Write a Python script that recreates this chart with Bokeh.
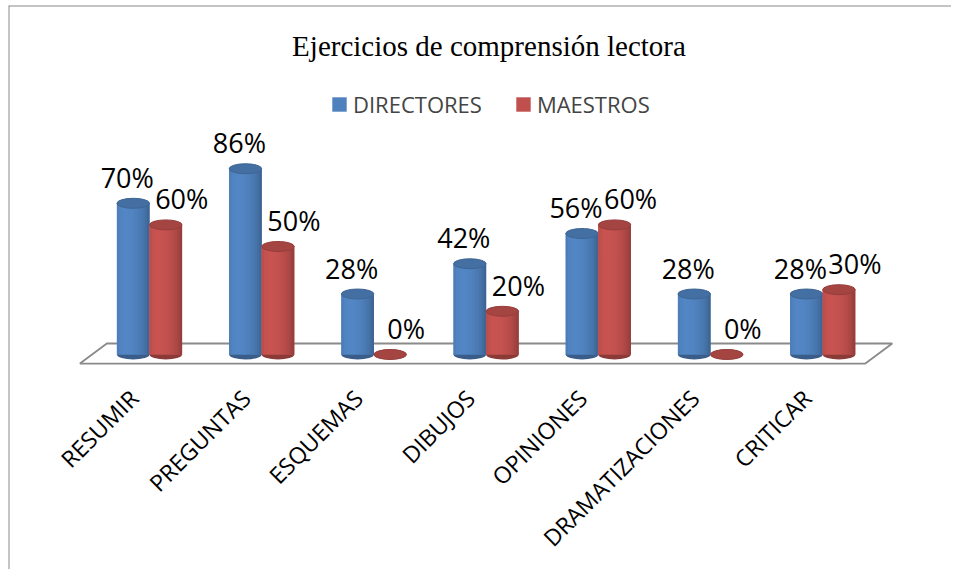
import math
from bokeh.plotting import figure
from bokeh.models import ColumnDataSource, Label, Legend, LegendItem, Range1d, Span
from bokeh.core.properties import value
from bokeh.embed import file_html
from bokeh.resources import INLINE

# ---------------- data ----------------
title_text = "Ejercicios de comprensión lectora"
categories = ["RESUMIR", "PREGUNTAS", "ESQUEMAS", "DIBUJOS",
              "OPINIONES", "DRAMATIZACIONES", "CRITICAR"]
directores = [70, 86, 28, 42, 56, 28, 28]
maestros = [60, 50, 0, 20, 60, 0, 30]
series_names = ["DIRECTORES", "MAESTROS"]
series_colors = ["#4F81BD", "#C0504D"]

# ---------------- helpers ----------------
def shade(hexc, f):
    h = hexc.lstrip("#")
    r, g, b = (int(h[i:i + 2], 16) for i in (0, 2, 4))
    c = [max(0, min(255, int(round(v * f)))) for v in (r, g, b)]
    return "#%02x%02x%02x" % tuple(c)

W, H = 951, 569
xr = Range1d(-1.2567, 7.148)
yr = Range1d(-99.54, 161.57)
p = figure(width=W, height=H, output_backend="svg", toolbar_location=None,
           x_range=xr, y_range=yr, x_axis_type=None, y_axis_type=None,
           min_border_left=8, min_border_right=0, min_border_top=5, min_border_bottom=0)
p.grid.visible = False
p.outline_line_color = None
p.background_fill_color = "white"
p.border_fill_color = "white"

# chart-area border (left and top edges visible in the window)
p.add_layout(Span(location=xr.start, dimension="height", line_color="#898989", line_width=2))
p.add_layout(Span(location=yr.end, dimension="width", line_color="#898989", line_width=2))

n = len(categories)
idx = list(range(n))

# floor plane (derived from the category count)
depth_dx, front_y, back_y = 0.12, -4.2, 5.1
fx0, fx1 = -0.5 - depth_dx, n - 0.5 - depth_dx
p.patch([fx0, fx1, fx1 + 2 * depth_dx, fx0 + 2 * depth_dx],
        [front_y, front_y, back_y, back_y],
        fill_color="white", line_color="#8a8a8a", line_width=1.8)

bar_w = 0.29
dodge = 0.145
N_STRIPS = 14

body_renderers = []
for s, (vals, col) in enumerate(zip([directores, maestros], series_colors)):
    off = -dodge if s == 0 else dodge
    xs = [i + off for i in idx]
    src = ColumnDataSource(dict(x=xs, top=vals))
    # bottom cap
    p.ellipse(x="x", y=0, width=bar_w, height=10, height_units="screen",
              source=src, fill_color=shade(col, 0.72), line_color=None)
    # body
    r = p.vbar(x="x", top="top", bottom=0, width=bar_w, source=src,
               fill_color=col, line_color=None)
    body_renderers.append(r)
    # shading strips across the cylinder
    sx, st, sc = [], [], []
    for k in range(N_STRIPS):
        t = -1 + (2 * k + 1) / N_STRIPS
        f = 0.80 + 0.24 * math.cos(math.asin(t) + 0.45)
        for i in idx:
            sx.append(xs[i] + t * bar_w / 2)
            st.append(vals[i])
            sc.append(shade(col, f))
    ssrc = ColumnDataSource(dict(x=sx, top=st, color=sc))
    p.vbar(x="x", top="top", bottom=0, width=bar_w / N_STRIPS + 0.002, source=ssrc,
           fill_color="color", line_color=None)
    # top cap
    p.ellipse(x="x", y="top", width=bar_w, height=10, height_units="screen",
              source=src, fill_color=shade(col, 0.86), line_color=shade(col, 0.78),
              line_width=1)
    # value labels
    lsrc = ColumnDataSource(dict(x=xs, y=vals, t=["%d%%" % v for v in vals]))
    p.text(x="x", y="y", text="t", source=lsrc, text_align="center",
           text_baseline="alphabetic", y_offset=-26,
           x_offset=-6 if s == 0 else 16,
           text_font=value("Open Sans"), text_font_size="27px", text_color="black")

# category labels (rotated)
csrc = ColumnDataSource(dict(x=idx, y=[-13.0] * n, t=categories))
p.text(x="x", y="y", text="t", source=csrc, angle=math.pi / 4,
       text_align="right", text_baseline="top", x_offset=-27,
       text_font=value("Open Sans"), text_font_size="23px", text_color="black")

# title
p.add_layout(Label(x=480.5, y=524, x_units="screen", y_units="screen",
                   text=title_text, text_align="center", text_baseline="alphabetic",
                   text_font="Liberation Serif", text_font_size="29px",
                   text_color="black"))

# legend
legend = Legend(items=[LegendItem(label=series_names[0], renderers=[body_renderers[0]]),
                       LegendItem(label=series_names[1], renderers=[body_renderers[1]])],
                orientation="horizontal", location=(322, 450),
                glyph_width=18, glyph_height=18, label_standoff=5, spacing=32,
                label_text_font="Open Sans", label_text_font_size="22px",
                padding=0, margin=0, border_line_alpha=0, background_fill_alpha=0)
p.add_layout(legend)

open("out.html", "w").write(file_html(p, INLINE))
